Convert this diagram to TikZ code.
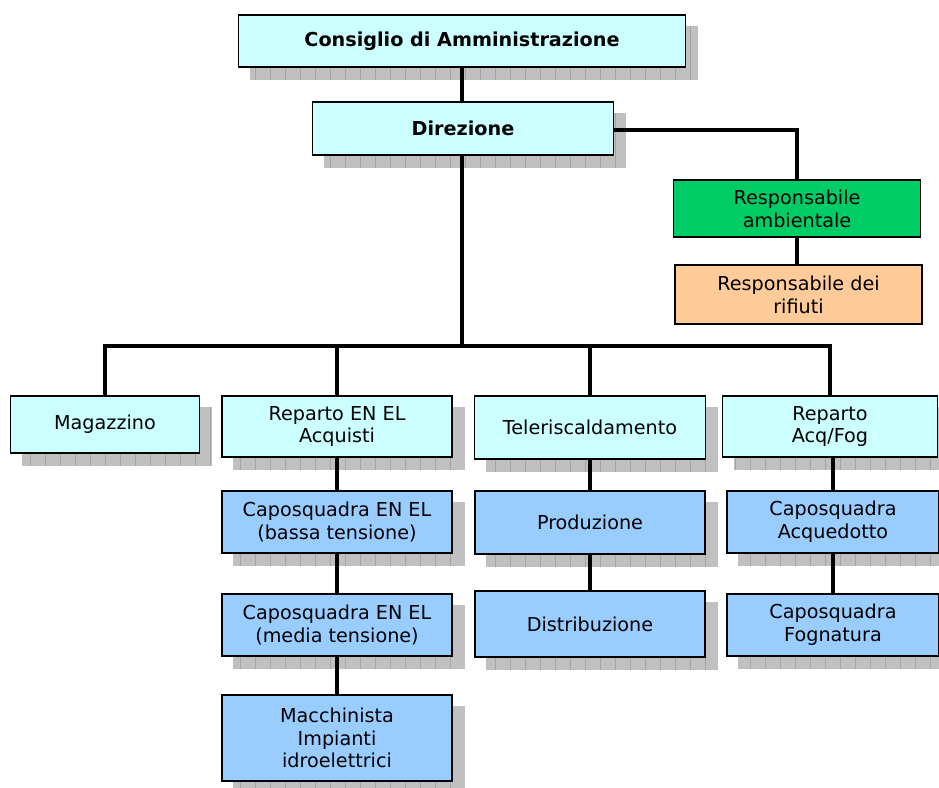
\documentclass[tikz,border=0pt]{standalone}
\usepackage{fontspec}
\setmainfont{DejaVu Sans}
\usetikzlibrary{calc}
\pgfdeclarelayer{shadowlayer}
\pgfdeclarelayer{edgelayer}
\pgfsetlayers{shadowlayer,edgelayer,main}
\definecolor{cyanbox}{HTML}{CCFFFF}
\definecolor{bluebox}{HTML}{99CCFF}
\definecolor{greenbox}{HTML}{00CC66}
\definecolor{orangebox}{HTML}{FFCC99}
\definecolor{shadowgray}{HTML}{C0C0C0}
\definecolor{gridgray}{HTML}{A4A4A4}
\tikzset{
  orgbox/.style={draw=black, line width=1.4pt, align=center, inner sep=2pt,
    font=\fontsize{19.2}{22.8}\selectfont, text=black},
  cyanstyle/.style={orgbox, fill=cyanbox},
  bluestyle/.style={orgbox, fill=bluebox},
  link/.style={line width=3.4pt, black},
  shadowbox/.style={fill=shadowgray, path picture={
     \draw[gridgray, line width=0.7pt, xstep=15, ystep=13] (path picture bounding box.south west) grid (path picture bounding box.north east);}}
}
\newcommand{\boxat}[6]{\node[#1, minimum width=#4pt, minimum height=#5pt] (#2) at #3 {#6};}
\begin{document}
\begin{tikzpicture}[x=1pt,y=-1pt]
\useasboundingbox (0,0) rectangle (939,787);
\boxat{cyanstyle}{cda}{(462,41)}{447}{52}{\textbf{Consiglio di Amministrazione}}
\boxat{cyanstyle}{dir}{(463,128.5)}{301}{53}{\textbf{Direzione}}
\boxat{orgbox, fill=greenbox}{amb}{(797,208.5)}{247}{57}{Responsabile\\ambientale}
\boxat{orgbox, fill=orangebox}{rif}{(798.5,294.5)}{247}{59}{Responsabile dei\\rifiuti}
\boxat{cyanstyle}{mag}{(105,424.5)}{189}{57}{Magazzino}
\boxat{cyanstyle}{ren}{(337,426.5)}{230}{61}{Reparto EN EL\\Acquisti}
\boxat{cyanstyle}{tel}{(590,427.5)}{231}{63}{Teleriscaldamento}
\boxat{cyanstyle}{raf}{(830,426.5)}{215}{61}{Reparto\\Acq/Fog}
\boxat{bluestyle}{cbt}{(337,522)}{230}{62}{Caposquadra EN EL\\(bassa tensione)}
\boxat{bluestyle}{cmt}{(337,625)}{230}{62}{Caposquadra EN EL\\(media tensione)}
\boxat{bluestyle}{mac}{(337,738)}{230}{86}{Macchinista\\Impianti\\idroelettrici}
\boxat{bluestyle}{pro}{(590,522.5)}{230}{63}{Produzione}
\boxat{bluestyle}{dis}{(590,624)}{230}{66}{Distribuzione}
\boxat{bluestyle}{caq}{(833,522)}{212}{62}{Caposquadra\\Acquedotto}
\boxat{bluestyle}{cfo}{(833,625)}{212}{62}{Caposquadra\\Fognatura}
\begin{pgfonlayer}{shadowlayer}
\foreach \n in {cda,dir,mag,ren,tel,raf,cbt,cmt,mac,pro,dis,caq,cfo}{
  \path[shadowbox] ($(\n.south west)+(12,12)$) rectangle ($(\n.north east)+(12,12)$);
}
\end{pgfonlayer}
\begin{pgfonlayer}{edgelayer}
\coordinate (bar) at (462,346);
\draw[link] (cda.south) -- (cda.south |- dir.north);
\draw[link] (cda.south |- dir.south) -- (bar);
\draw[link] (mag.north) -- (mag.north |- bar) -- (raf.north |- bar) -- (raf.north);
\draw[link] (ren.north |- bar) -- (ren.north);
\draw[link] (tel.north |- bar) -- (tel.north);
\draw[link] ([yshift=-1.5]dir.east) -- ([yshift=-1.5]dir.east -| amb.north) -- (amb.north);
\draw[link] (amb.south) -- (amb.south |- rif.north);
\draw[link] (ren.south) -- (cbt.north);
\draw[link] (cbt.south) -- (cmt.north);
\draw[link] (cmt.south) -- (mac.north);
\draw[link] (tel.south) -- (pro.north);
\draw[link] (pro.south) -- (dis.north);
\draw[link] (raf.south -| caq.north) -- (caq.north);
\draw[link] (caq.south) -- (cfo.north);
\end{pgfonlayer}
\end{tikzpicture}
\end{document}
